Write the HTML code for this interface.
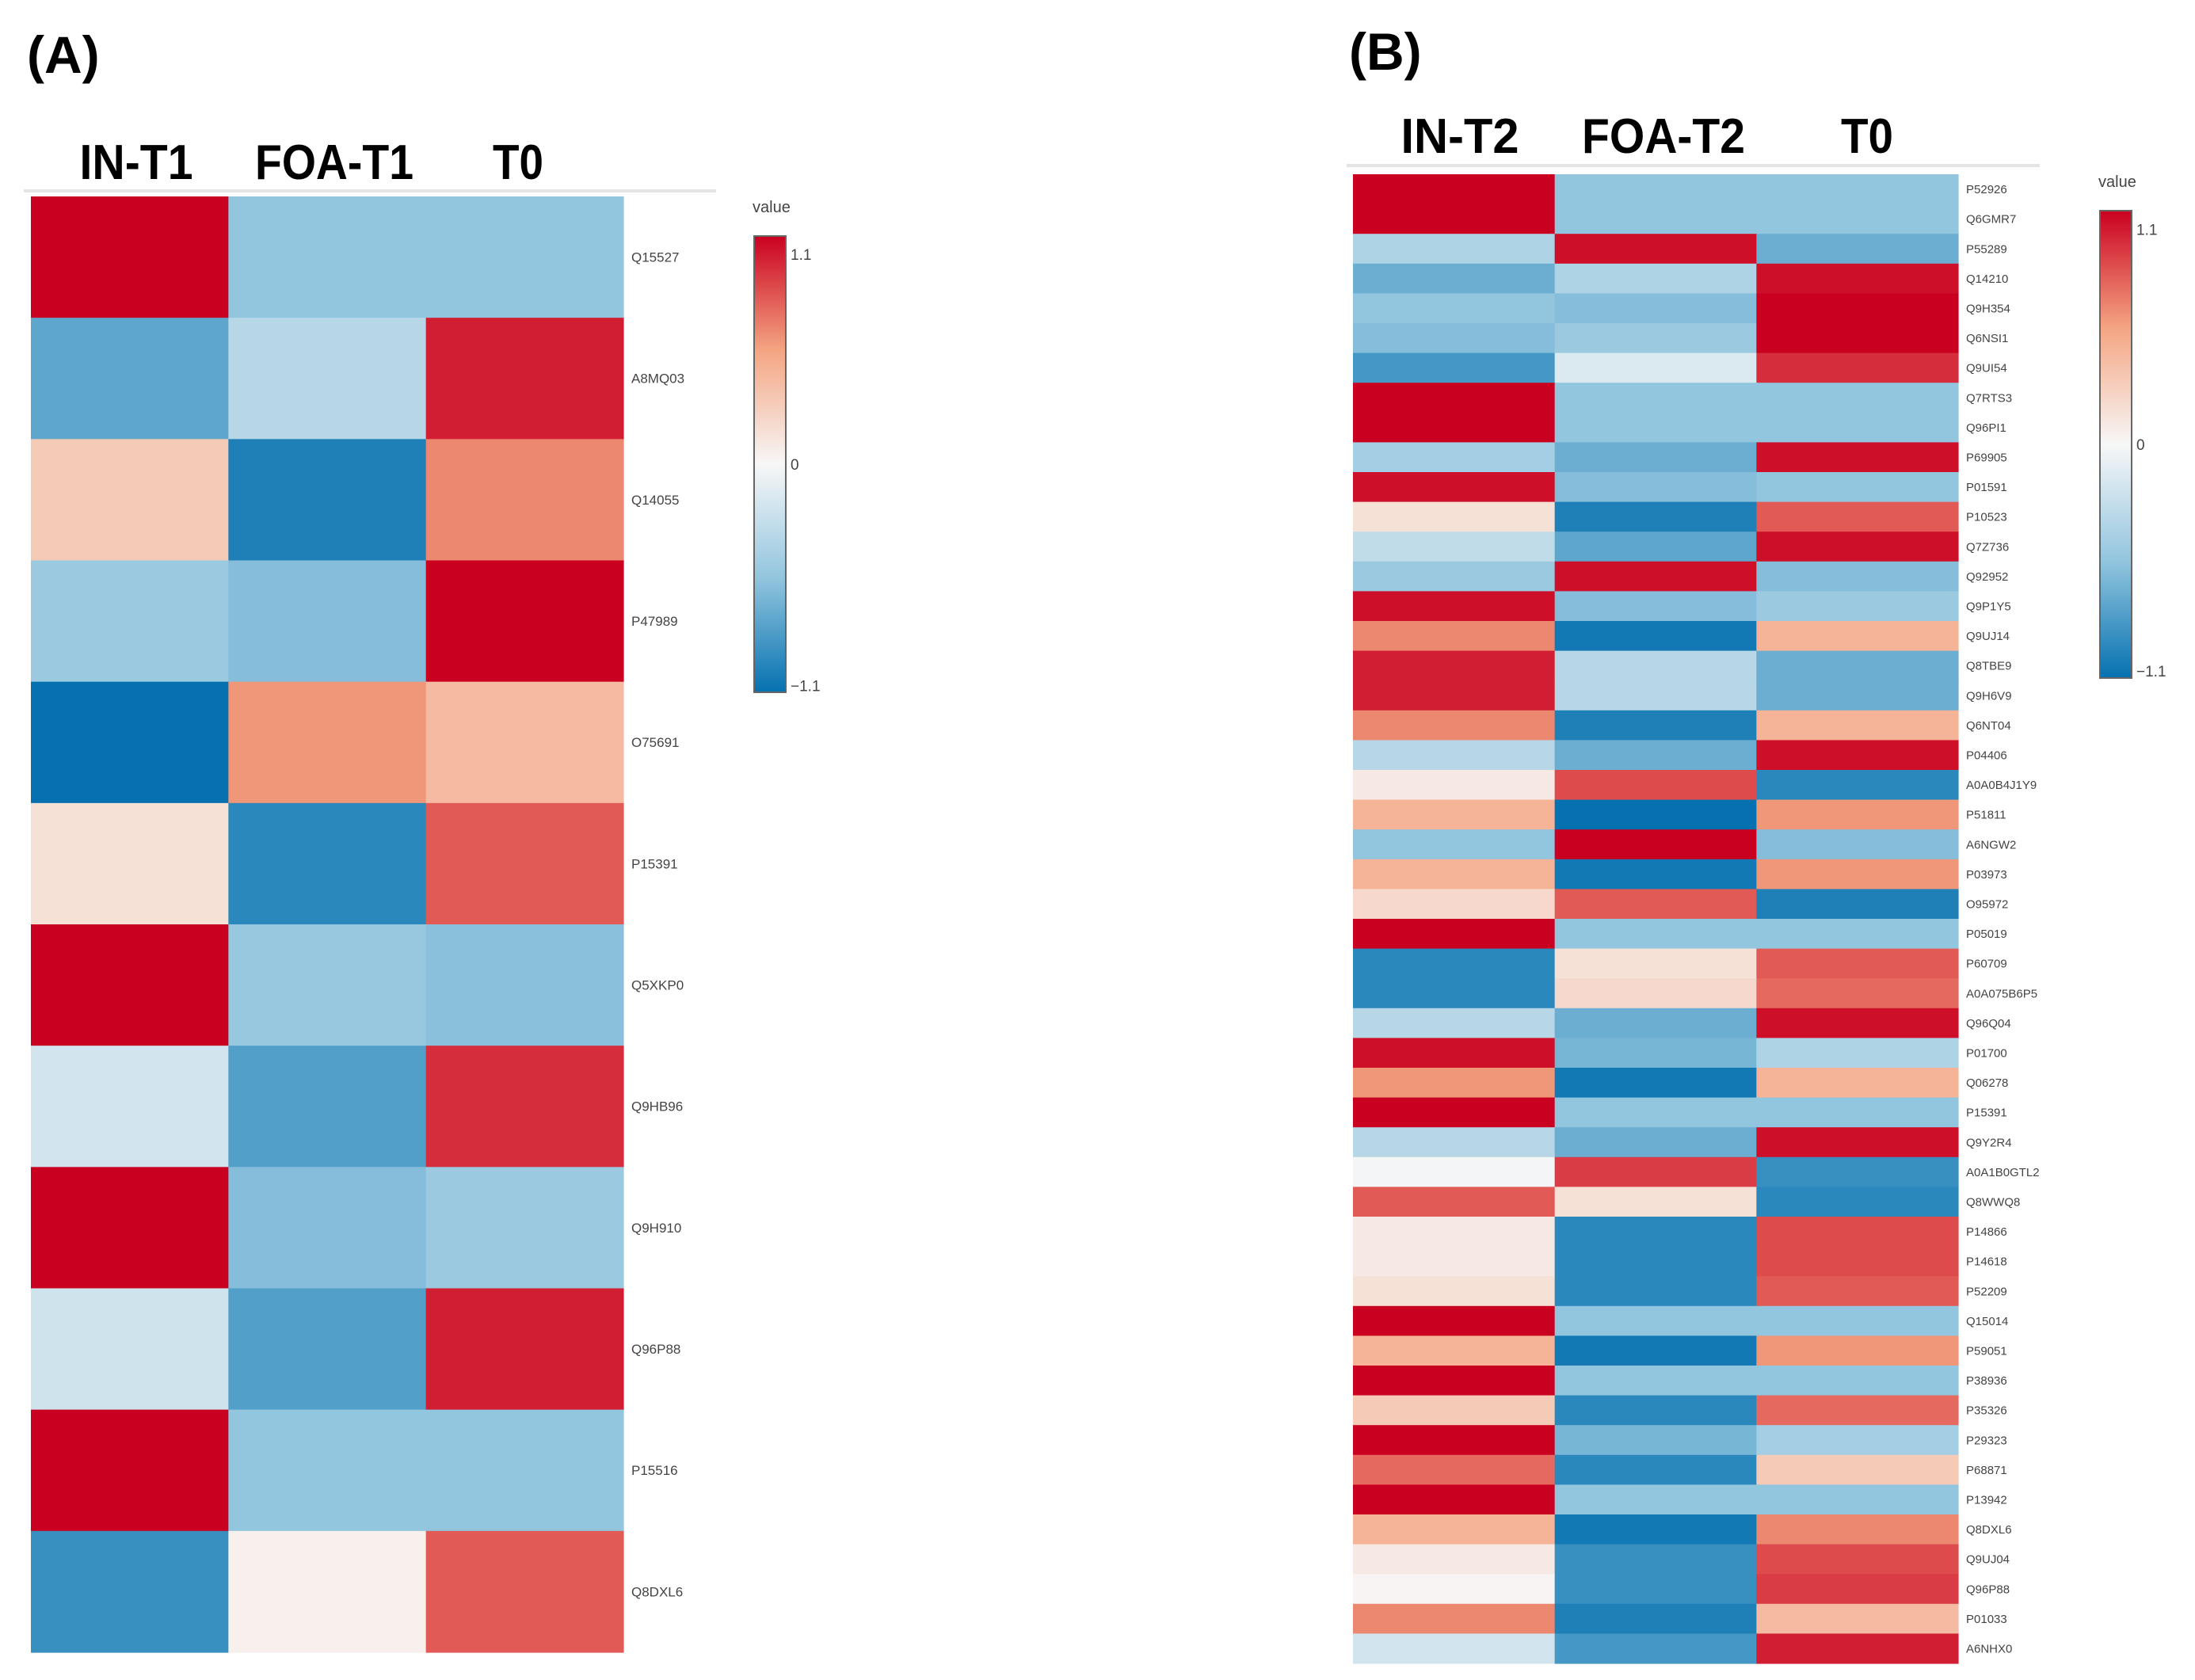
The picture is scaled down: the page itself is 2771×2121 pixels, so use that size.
<!DOCTYPE html>
<html><head><meta charset="utf-8"><style>
html,body{margin:0;padding:0;background:#fff;}
svg{display:block;font-family:"Liberation Sans",sans-serif;}
</style></head><body>
<svg id="fig" width="2771" height="2121" xmlns="http://www.w3.org/2000/svg">
<defs>
<linearGradient id="cb" x1="0" y1="0" x2="0" y2="1">
<stop offset="0" stop-color="#ca0020"/><stop offset="0.25" stop-color="#f4a582"/><stop offset="0.5" stop-color="#f7f7f7"/><stop offset="0.75" stop-color="#92c5de"/><stop offset="1" stop-color="#0571b0"/>
</linearGradient>
</defs>
<text x="34" y="92" font-size="66" font-weight="bold">(A)</text>
<text x="1703" y="88" font-size="66" font-weight="bold">(B)</text>
<line x1="30" y1="241" x2="904" y2="241" stroke="#e4e4e4" stroke-width="4"/>
<line x1="1700" y1="209" x2="2575" y2="209" stroke="#e4e4e4" stroke-width="4"/>
<g id="ga"></g>
<g id="gb"></g>
</svg>
<script>
const colsA = ["IN-T1","FOA-T1","T0"];
const rowsA = ["Q15527","A8MQ03","Q14055","P47989","O75691","P15391","Q5XKP0","Q9HB96","Q9H910","Q96P88","P15516","Q8DXL6"];
const inA  = [1.1,-0.75,0.3,-0.5,-1.1,0.15,1.1,-0.2,1.1,-0.22,1.1,-0.9];
const foaA = [-0.55,-0.35,-1.0,-0.6,0.6,-0.95,-0.52,-0.8,-0.6,-0.8,-0.55,0.05];
const t0A  = [-0.55,1.0,0.65,1.1,0.4,0.8,-0.58,0.95,-0.5,1.0,-0.55,0.8];

const colsB = ["IN-T2","FOA-T2","T0"];
const rowsB = ["P52926","Q6GMR7","P55289","Q14210","Q9H354","Q6NSI1","Q9UI54","Q7RTS3","Q96PI1","P69905","P01591","P10523","Q7Z736","Q92952","Q9P1Y5","Q9UJ14","Q8TBE9","Q9H6V9","Q6NT04","P04406","A0A0B4J1Y9","P51811","A6NGW2","P03973","O95972","P05019","P60709","A0A075B6P5","Q96Q04","P01700","Q06278","P15391","Q9Y2R4","A0A1B0GTL2","Q8WWQ8","P14866","P14618","P52209","Q15014","P59051","P38936","P35326","P29323","P68871","P13942","Q8DXL6","Q9UJ04","Q96P88","P01033","A6NHX0"];
const inB  = [1.1,1.1,-0.4,-0.7,-0.55,-0.6,-0.85,1.1,1.1,-0.45,1.05,0.15,-0.3,-0.5,1.05,0.65,1.0,1.0,0.65,-0.35,0.1,0.45,-0.55,0.45,0.2,1.1,-0.95,-0.95,-0.35,1.05,0.6,1.1,-0.35,-0.02,0.8,0.1,0.1,0.15,1.1,0.45,1.1,0.3,1.1,0.75,1.1,0.45,0.1,0.02,0.65,-0.2];
const foaB = [-0.55,-0.55,1.05,-0.4,-0.6,-0.5,-0.15,-0.55,-0.55,-0.7,-0.6,-1.0,-0.75,1.05,-0.6,-1.05,-0.35,-0.35,-1.0,-0.7,0.85,-1.1,1.1,-1.05,0.8,-0.55,0.15,0.2,-0.7,-0.65,-1.05,-0.55,-0.7,0.9,0.15,-0.95,-0.95,-0.95,-0.55,-1.05,-0.55,-0.95,-0.65,-0.95,-0.55,-1.05,-0.9,-0.9,-1.0,-0.85];
const t0B  = [-0.55,-0.55,-0.7,1.05,1.1,1.1,0.95,-0.55,-0.55,1.05,-0.55,0.8,1.05,-0.6,-0.5,0.45,-0.7,-0.7,0.45,1.05,-0.95,0.6,-0.6,0.6,-1.0,-0.55,0.8,0.75,1.05,-0.4,0.45,-0.55,1.05,-0.9,-0.95,0.85,0.85,0.8,-0.55,0.6,-0.55,0.75,-0.45,0.3,-0.55,0.65,0.85,0.9,0.4,1.0];

const stops=[[-1.1,[5,113,176]],[-0.55,[146,197,222]],[0,[247,247,247]],[0.55,[244,165,130]],[1.1,[202,0,32]]];
function color(v){v=Math.max(-1.1,Math.min(1.1,v));for(let i=0;i<stops.length-1;i++){const a=stops[i],b=stops[i+1];if(v<=b[0]){const t=(v-a[0])/(b[0]-a[0]);const c=a[1].map((x,k)=>Math.round(x+(b[1][k]-x)*t));return `rgb(${c})`;}}return "rgb(202,0,32)";}
const NS="http://www.w3.org/2000/svg";
function mk(tag,attrs,parent){const e=document.createElementNS(NS,tag);for(const k in attrs)e.setAttribute(k,attrs[k]);parent.appendChild(e);return e;}

function drawPanel(g,cols,rows,series,x0,y0,x1,y1,hdrY,hdrX,hdrW,labFs,cbX,cbY0,cbY1){
  const cw=(x1-x0)/cols.length, rh=(y1-y0)/rows.length;
  const xs=c=>x0+c*cw, ys=r=>y0+r*rh;
  cols.forEach((c,i)=>{
    const t=mk("text",{x:hdrX[i]-hdrW[i]/2,y:hdrY,"font-size":62,"font-weight":"bold",textLength:hdrW[i],lengthAdjust:"spacingAndGlyphs"},g);
    t.textContent=c;
    
    
  });
  rows.forEach((r,ri)=>{
    series.forEach((s,ci)=>{
      const rc=mk("rect",{x:xs(ci),y:ys(ri),width:cw+0.6,height:rh+0.6,fill:color(s[ri])},g);
      
      
    });
    const t=mk("text",{x:x1+10,y:ys(ri)+rh/2+labFs*0.35,"font-size":labFs,fill:"#444"},g);
    t.textContent=r;
    
    
  });
  const vt=mk("text",{x:cbX-2,y:cbY0-30,"font-size":20,fill:"#444"},g);
  vt.textContent="value";
  
  
  const cb=mk("rect",{x:cbX,y:cbY0,width:40,height:cbY1-cbY0,fill:"url(#cb)",stroke:"#666","stroke-width":2},g);
  
  
  const span=cbY1-cbY0;
  [["1.1",0.04],["0",0.5],["\u22121.1",0.985]].forEach(([l,f])=>{
    const t=mk("text",{x:cbX+46,y:cbY0+span*f+7,"font-size":19,fill:"#444"},g);
    t.textContent=l;
    
    
  });
}
drawPanel(document.getElementById("ga"),colsA,rowsA,[inA,foaA,t0A],39,248,787,2086,226,[172,422,654],[143,200,64],17,952,298,874);
drawPanel(document.getElementById("gb"),colsB,rowsB,[inB,foaB,t0B],1708,220,2472,2100,193,[1843,2100,2357],[149,206,66],15,2651,266,856);
</script>
</body></html>
